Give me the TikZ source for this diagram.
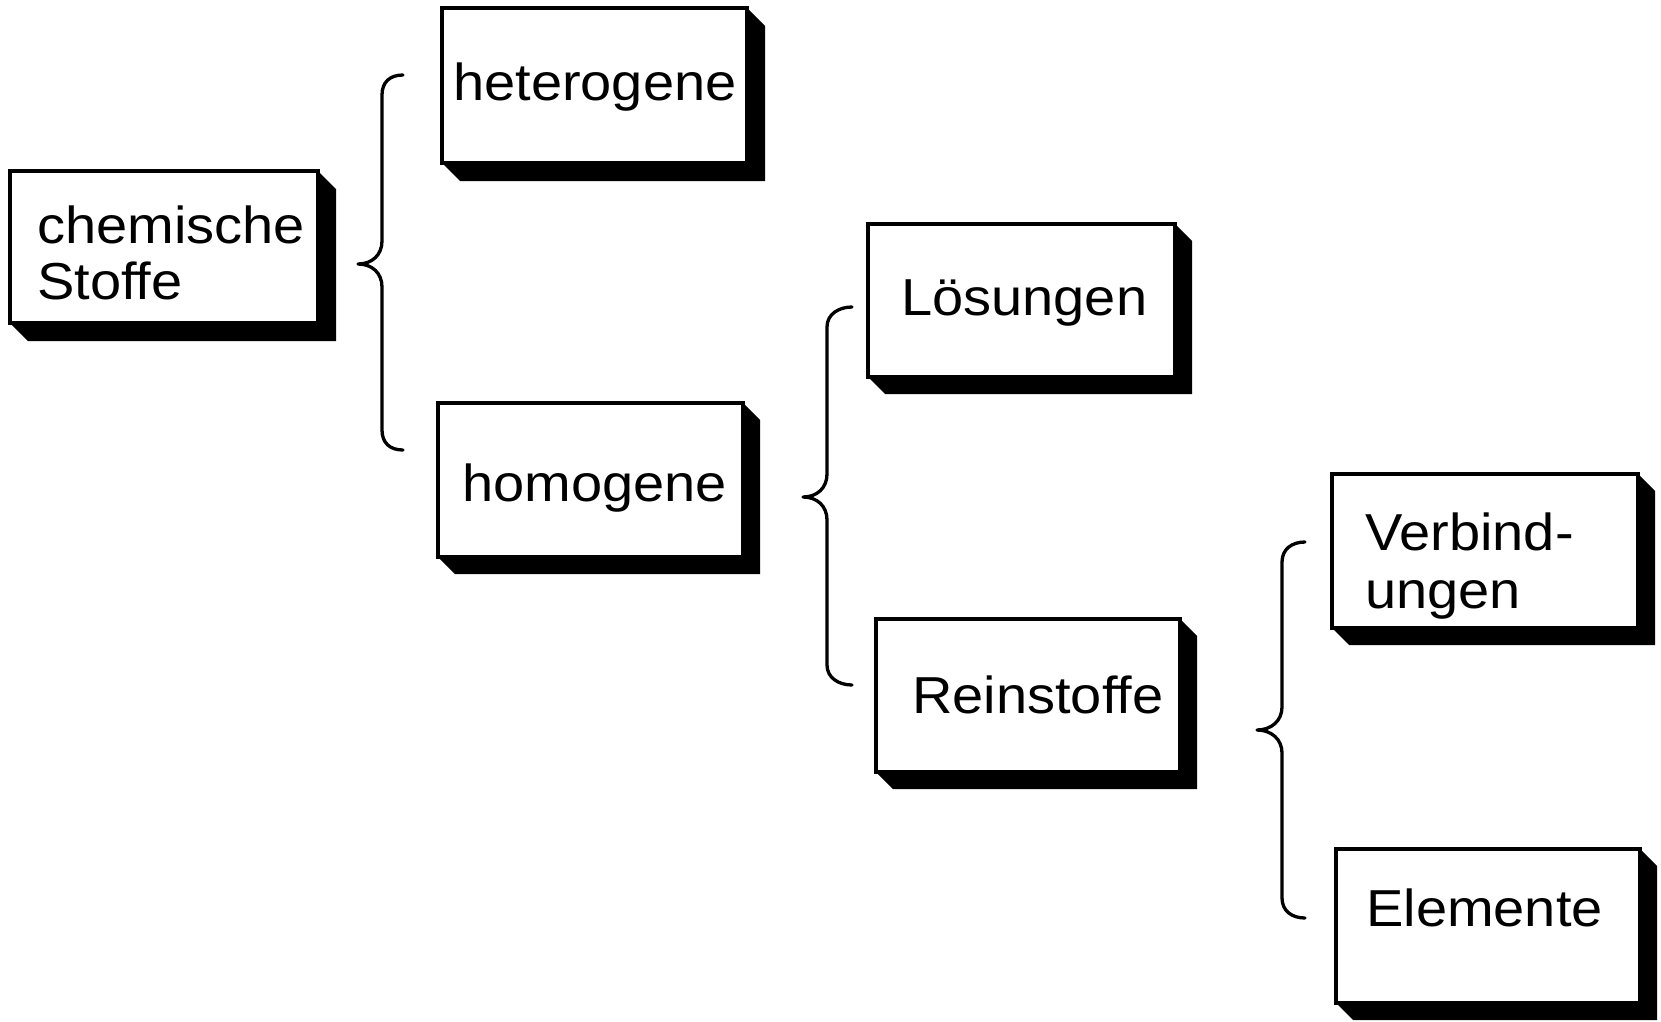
\documentclass[tikz,border=0pt]{standalone}
\usepackage{fontspec}
\setmainfont{Liberation Sans}[FakeStretch=1.077,Ligatures=NoCommon]
\usetikzlibrary{backgrounds}

% black drop shade below and to the right of a box: #1 node name, #2 depth
\newcommand\dropshade[2]{%
  \fill (#1.north east) -- ++(#2,#2) |- ([shift={(#2,#2)}]#1.south west)
        -- (#1.south west) -- cycle;}

\begin{document}
\begin{tikzpicture}[x=1pt,y=-1pt,
  box/.style={draw, line width=3.5pt, fill=white, inner sep=0pt, outer sep=0pt},
  lbl/.style={anchor=base west, inner sep=0pt, font=\fontsize{52}{56}\selectfont},
  brace/.style={line width=3.3pt, line cap=round, line join=round}]
\useasboundingbox (0,0) rectangle (1661,1021);

% boxes
\node[box, minimum width=308, minimum height=152] (chem) at (164,247)    {};
\node[box, minimum width=305, minimum height=155] (het)  at (594.5,85.5) {};
\node[box, minimum width=305, minimum height=154] (hom)  at (590.5,480)  {};
\node[box, minimum width=307, minimum height=153] (los)  at (1021.5,300.5) {};
\node[box, minimum width=304, minimum height=153] (rein) at (1028,695.5) {};
\node[box, minimum width=306, minimum height=154] (verb) at (1485,551)   {};
\node[box, minimum width=304, minimum height=154] (elem) at (1488,926)   {};

\begin{scope}[on background layer]
  \dropshade{chem}{18}
  \dropshade{het}{18}
  \dropshade{hom}{17}
  \dropshade{los}{17}
  \dropshade{rein}{17}
  \dropshade{verb}{17}
  \dropshade{elem}{17}
\end{scope}

% labels
\node[lbl] (chemA) at (37,243)   {chemische};
\node[lbl] (chemB) at (37,299)   {Stoffe};
\node[lbl] (hetA)  at (453,100)  {heterogene};
\node[lbl] (homA)  at (462,501)  {homogene};
\node[lbl] (losA)  at (901,315)  {Lösungen};
\node[lbl] (reinA) at (912,713)  {Reinstoffe};
\node[lbl] (verbA) at (1365,550) {Verbind-};
\node[lbl] (verbB) at (1365,608) {ungen};
\node[lbl] (elemA) at (1366,926) {Elemente};

% brace ends and tips
\coordinate (b1t) at (403,75);   \coordinate (b1m) at (358,264);  \coordinate (b1b) at (403,450);
\coordinate (b2t) at (852,307);  \coordinate (b2m) at (803,497);  \coordinate (b2b) at (852,685);
\coordinate (b3t) at (1305,542); \coordinate (b3m) at (1257,730); \coordinate (b3b) at (1305,918);

% chemische Stoffe -> heterogene / homogene
\draw[brace] (b1t) .. controls (390,75) and (382,82) .. (382,95) -- (382,241)
  .. controls (382,255) and (372,264) .. (b1m)
  .. controls (372,264) and (382,273) .. (382,287) -- (382,430)
  .. controls (382,443) and (390,450) .. (b1b);
% homogene -> Lösungen / Reinstoffe
\draw[brace] (b2t) .. controls (839,307) and (827,314) .. (827,327) -- (827,474)
  .. controls (827,488) and (817,497) .. (b2m)
  .. controls (817,497) and (827,506) .. (827,520) -- (827,665)
  .. controls (827,678) and (839,685) .. (b2b);
% Reinstoffe -> Verbindungen / Elemente
\draw[brace] (b3t) .. controls (1292,542) and (1282,549) .. (1282,562) -- (1282,707)
  .. controls (1282,721) and (1271,730) .. (b3m)
  .. controls (1271,730) and (1282,739) .. (1282,753) -- (1282,898)
  .. controls (1282,911) and (1292,918) .. (b3b);
\end{tikzpicture}
\end{document}
